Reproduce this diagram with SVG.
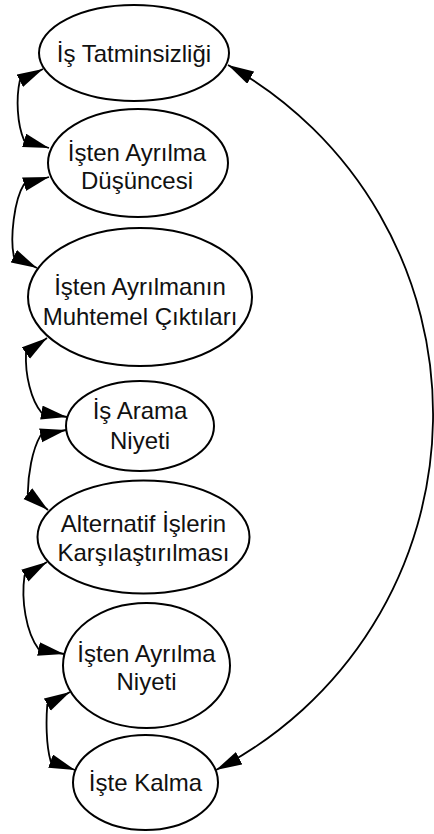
<svg xmlns="http://www.w3.org/2000/svg" width="434" height="834" viewBox="0 0 434 834">
  <style>
    .node ellipse { fill: #ffffff; stroke: #000000; stroke-width: 2; }
    .node text { font-family: "Liberation Sans", Arial, sans-serif; font-size: 24px; fill: #111111; text-anchor: middle; }
    .edge { fill: none; stroke: #000000; stroke-width: 1.8; marker-start: url(#head); marker-end: url(#head); }
  </style>
  <defs>
    <marker id="head" markerUnits="userSpaceOnUse" markerWidth="27" markerHeight="15" refX="26" refY="7" orient="auto-start-reverse">
      <path d="M0,0 L26,7 L0,14 Z" fill="#000000"/>
    </marker>
  </defs>

  <!-- connectors -->
  <g id="edges">
    <path class="edge" d="M43,69 L19.8,80.8 C16,98 17,124 24.1,140.4 L49,148"/>
    <path class="edge" d="M49,177 L24,184.2 C14,200 10,238 13.8,256.2 L37,268"/>
    <path class="edge" d="M47,338 L26,353 C25,375 31,400 41.4,412.5 L67,417"/>
    <path class="edge" d="M66,430 L40.6,435.4 C32,450 28,475 27.8,493.6 L48,510"/>
    <path class="edge" d="M47,562 L24.5,575.8 C21,600 26,632 38.5,649 L64,654"/>
    <path class="edge" d="M70,692 L47.3,704.6 C46,720 46,745 50.6,761.1 L75,770"/>
    <path class="edge" d="M228,65 A400,400 0 0 1 216,770"/>
  </g>

  <g id="n1" class="node">
    <ellipse cx="134" cy="53" rx="95" ry="48"/>
    <text x="134" y="61.5">İş Tatminsizliği</text>
  </g>
  <g id="n2" class="node">
    <ellipse cx="138" cy="163" rx="90" ry="54"/>
    <text x="137" y="160.5">İşten Ayrılma</text>
    <text x="137" y="189">Düşüncesi</text>
  </g>
  <g id="n3" class="node">
    <ellipse cx="140" cy="297" rx="112" ry="69"/>
    <text x="140" y="295">İşten Ayrılmanın</text>
    <text x="140" y="324.5">Muhtemel Çıktıları</text>
  </g>
  <g id="n4" class="node">
    <ellipse cx="140" cy="426" rx="74" ry="45"/>
    <text x="140" y="419">İş Arama</text>
    <text x="140" y="448.5">Niyeti</text>
  </g>
  <g id="n5" class="node">
    <ellipse cx="143.5" cy="537" rx="106" ry="56.5"/>
    <text x="143.5" y="531.5">Alternatif İşlerin</text>
    <text x="143.5" y="561">Karşılaştırılması</text>
  </g>
  <g id="n6" class="node">
    <ellipse cx="146.5" cy="665.5" rx="83.5" ry="62.5"/>
    <text x="146.5" y="661.5">İşten Ayrılma</text>
    <text x="146.5" y="690">Niyeti</text>
  </g>
  <g id="n7" class="node">
    <ellipse cx="145.5" cy="782.5" rx="72.5" ry="47.5"/>
    <text x="145.5" y="791">İşte Kalma</text>
  </g>
</svg>
